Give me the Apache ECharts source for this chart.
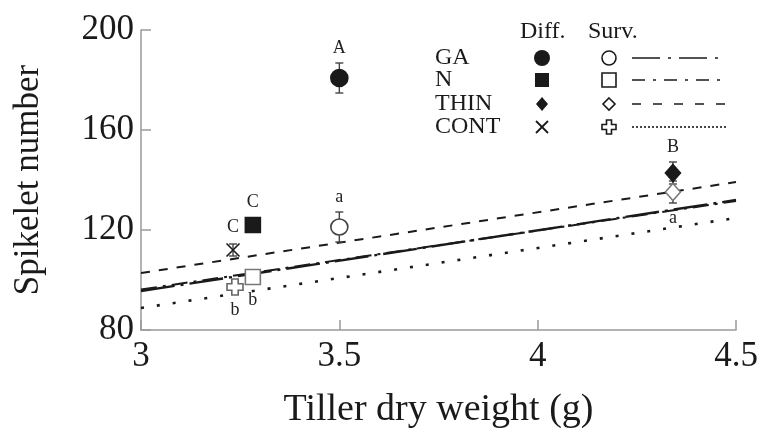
<!DOCTYPE html>
<html>
<head>
<meta charset="utf-8">
<script src="https://cdn.jsdelivr.net/npm/echarts@6/dist/echarts.min.js"></script>
<style>
  html, body { margin: 0; padding: 0; background: #fff; }
  #main { width: 761px; height: 431px; }
</style>
</head>
<body>
<div id="main"></div>
<script>
// treatments, same order in every array
var groups = ["GA", "N", "THIN", "CONT"];

// differentiated spikelets (filled marks)
var diffX = [3.50, 3.282, 4.341, 3.232];
var diffY = [180.8, 122.0, 142.8, 112.0];
var diffErr = [6, 0, 4.4, 2.4];
var diffLetter = ["A", "C", "B", "C"];
var diffLetterPos = ["top", "top", "top", "top"];

// surviving spikelets (open marks)
var survX = [3.50, 3.282, 4.341, 3.237];
var survY = [121.2, 101.2, 135.2, 97.2];
var survErr = [6, 0, 4.4, 0];
var survLetter = ["a", "b", "a", "b"];
var survLetterPos = ["top", "bottom", "bottom", "bottom"];

// regression lines, value at x = 3 and x = 4.5
var lineX = [3, 4.5];
var lineGA = [95.6, 132.0];
var lineN = [96.2, 131.6];
var lineTHIN = [102.8, 139.2];
var lineCONT = [88.8, 124.8];

// axis ticks
var xTicks = [3, 3.5, 4, 4.5];
var yTicks = [80, 120, 160, 200];

var FONT = "Liberation Serif";
var INK = "#1a1a1a";

var crossPath = "path://M3,0 L7,0 L7,3 L10,3 L10,7 L7,7 L7,10 L3,10 L3,7 L0,7 L0,3 L3,3 Z";
var xPath = "path://M0,0 L10,10 M10,0 L0,10";

var diffSym = [
  { symbol: "circle", size: 17, color: INK, border: INK },
  { symbol: "rect", size: 15, color: INK, border: INK },
  { symbol: "diamond", size: [15, 17], color: INK, border: INK },
  { symbol: xPath, size: 13, color: "transparent", border: INK }
];
var survSym = [
  { symbol: "circle", size: [17, 16], color: "#fff", border: "#444" },
  { symbol: "rect", size: 15, color: "#fff", border: "#777" },
  { symbol: "diamond", size: [15, 17], color: "#fff", border: "#777" },
  { symbol: crossPath, size: 16, color: "#fff", border: "#666" }
];

function pts(xs, ys) {
  return xs.map(function (x, i) { return [x, ys[i]]; });
}

function markSeries(xs, ys, syms) {
  return xs.map(function (x, i) {
    var s = syms[i];
    return {
      type: "scatter",
      z: 5,
      data: [[x, ys[i]]],
      symbol: s.symbol,
      symbolSize: s.size,
      itemStyle: { color: s.color, borderColor: s.border, borderWidth: 1.6, opacity: 1 }
    };
  });
}

function barSeries(xs, ys, errs, letters, letterPos) {
  return {
    type: "custom",
    z: 4,
    data: xs.map(function (x, i) { return [x, ys[i], errs[i], i]; }),
    renderItem: function (params, api) {
      var x = api.value(0), y = api.value(1), e = api.value(2), i = api.value(3);
      var c = api.coord([x, y]);
      var hi = api.coord([x, y + e]);
      var lo = api.coord([x, y - e]);
      var errPx = Math.abs(c[1] - hi[1]);
      var kids = [];
      if (e > 0) {
        var ls = { stroke: "#444", lineWidth: 1.4 };
        kids.push({ type: "line", shape: { x1: c[0], y1: hi[1], x2: c[0], y2: lo[1] }, style: ls });
        kids.push({ type: "line", shape: { x1: c[0] - 4, y1: hi[1], x2: c[0] + 4, y2: hi[1] }, style: ls });
        kids.push({ type: "line", shape: { x1: c[0] - 4, y1: lo[1], x2: c[0] + 4, y2: lo[1] }, style: ls });
      }
      var off = Math.max(errPx, 8) + 15;
      var ty = letterPos[i] === "top" ? c[1] - off : c[1] + off;
      kids.push({
        type: "text",
        style: {
          text: letters[i], x: c[0], y: ty,
          align: "center", verticalAlign: "middle",
          font: "18px '" + FONT + "'", fill: "#222"
        }
      });
      return { type: "group", children: kids };
    }
  };
}

function regLine(ys, dash, w) {
  return {
    type: "line",
    z: 3,
    data: pts(lineX, ys),
    showSymbol: false,
    silent: true,
    lineStyle: { color: INK, width: w, type: dash }
  };
}

// legend, drawn by hand
var legendRows = [58, 80, 104, 127];
var legendDash = [[28, 8, 3, 8], [13, 8, 3, 8], [9, 12], [2, 2]];
var graphics = [
  { type: "text", left: 520, top: 20, style: { text: "Diff.", font: "24px '" + FONT + "'", fill: INK } },
  { type: "text", left: 588, top: 20, style: { text: "Surv.", font: "24px '" + FONT + "'", fill: INK } }
];
groups.forEach(function (g, i) {
  var y = legendRows[i];
  graphics.push({ type: "text", x: 435, y: y, style: { text: g, font: "24px '" + FONT + "'", fill: INK, verticalAlign: "middle" } });
  graphics.push({ type: "line", shape: { x1: 632, y1: y, x2: 726, y2: y }, style: { stroke: INK, lineWidth: 1.6, lineDash: legendDash[i] } });
});
// legend marks
graphics.push({ type: "circle", shape: { cx: 542, cy: legendRows[0], r: 8 }, style: { fill: INK } });
graphics.push({ type: "rect", shape: { x: 535, y: legendRows[1] - 7, width: 14, height: 14 }, style: { fill: INK } });
graphics.push({ type: "polygon", shape: { points: [[542, legendRows[2] - 7], [548, legendRows[2]], [542, legendRows[2] + 7], [536, legendRows[2]]] }, style: { fill: INK } });
graphics.push({ type: "polyline", shape: { points: [[536, legendRows[3] - 6], [548, legendRows[3] + 6]] }, style: { stroke: INK, lineWidth: 1.8, fill: null } });
graphics.push({ type: "polyline", shape: { points: [[548, legendRows[3] - 6], [536, legendRows[3] + 6]] }, style: { stroke: INK, lineWidth: 1.8, fill: null } });
graphics.push({ type: "circle", shape: { cx: 609, cy: legendRows[0], r: 7 }, style: { fill: "#fff", stroke: INK, lineWidth: 1.6 } });
graphics.push({ type: "rect", shape: { x: 602, y: legendRows[1] - 7, width: 14, height: 14 }, style: { fill: "#fff", stroke: INK, lineWidth: 1.6 } });
graphics.push({ type: "polygon", shape: { points: [[609, legendRows[2] - 6], [615, legendRows[2]], [609, legendRows[2] + 6], [603, legendRows[2]]] }, style: { fill: "#fff", stroke: INK, lineWidth: 1.6 } });
(function () {
  var cx = 609, cy = legendRows[3], a = 2.5, b = 7;
  graphics.push({
    type: "polygon",
    shape: { points: [[cx - a, cy - b], [cx + a, cy - b], [cx + a, cy - a], [cx + b, cy - a], [cx + b, cy + a], [cx + a, cy + a], [cx + a, cy + b], [cx - a, cy + b], [cx - a, cy + a], [cx - b, cy + a], [cx - b, cy - a], [cx - a, cy - a]] },
    style: { fill: "#fff", stroke: INK, lineWidth: 1.6 }
  });
})();

var option = {
  animation: false,
  backgroundColor: "#fff",
  grid: { left: 141, right: 25, top: 30, bottom: 101, outerBoundsMode: "none", containLabel: false },
  xAxis: {
    type: "value",
    min: xTicks[0],
    max: xTicks[xTicks.length - 1],
    interval: 0.5,
    name: "Tiller dry weight (g)",
    nameLocation: "middle",
    nameGap: 61,
    nameTextStyle: { fontFamily: FONT, fontSize: 38, color: INK },
    axisLine: { lineStyle: { color: "#9a9a9a", width: 1.5 } },
    axisTick: { inside: true, length: 10, lineStyle: { color: "#9a9a9a", width: 1.5 } },
    axisLabel: { fontFamily: FONT, fontSize: 35, color: INK, margin: 9 },
    splitLine: { show: false }
  },
  yAxis: {
    type: "value",
    min: yTicks[0],
    max: yTicks[yTicks.length - 1],
    interval: 40,
    name: "Spikelet number",
    nameLocation: "middle",
    nameGap: 95,
    nameTextStyle: { fontFamily: FONT, fontSize: 35, color: INK },
    axisLine: { show: true, lineStyle: { color: "#9a9a9a", width: 1.5 } },
    axisTick: { show: true, inside: true, length: 10, lineStyle: { color: "#9a9a9a", width: 1.5 } },
    axisLabel: { fontFamily: FONT, fontSize: 35, color: INK, margin: 7 },
    splitLine: { show: false }
  },
  graphic: graphics,
  series: [
    regLine(lineTHIN, [9, 9], 2),
    regLine(lineGA, [34, 6, 3, 6], 2.4),
    regLine(lineN, [16, 6, 3, 6], 2),
    regLine(lineCONT, [3, 13], 2.6),
    barSeries(diffX, diffY, diffErr, diffLetter, diffLetterPos),
    barSeries(survX, survY, survErr, survLetter, survLetterPos)
  ].concat(markSeries(diffX, diffY, diffSym)).concat(markSeries(survX, survY, survSym))
};

var myChart = echarts.init(document.getElementById("main"));
myChart.setOption(option, true);
</script>
</body>
</html>
